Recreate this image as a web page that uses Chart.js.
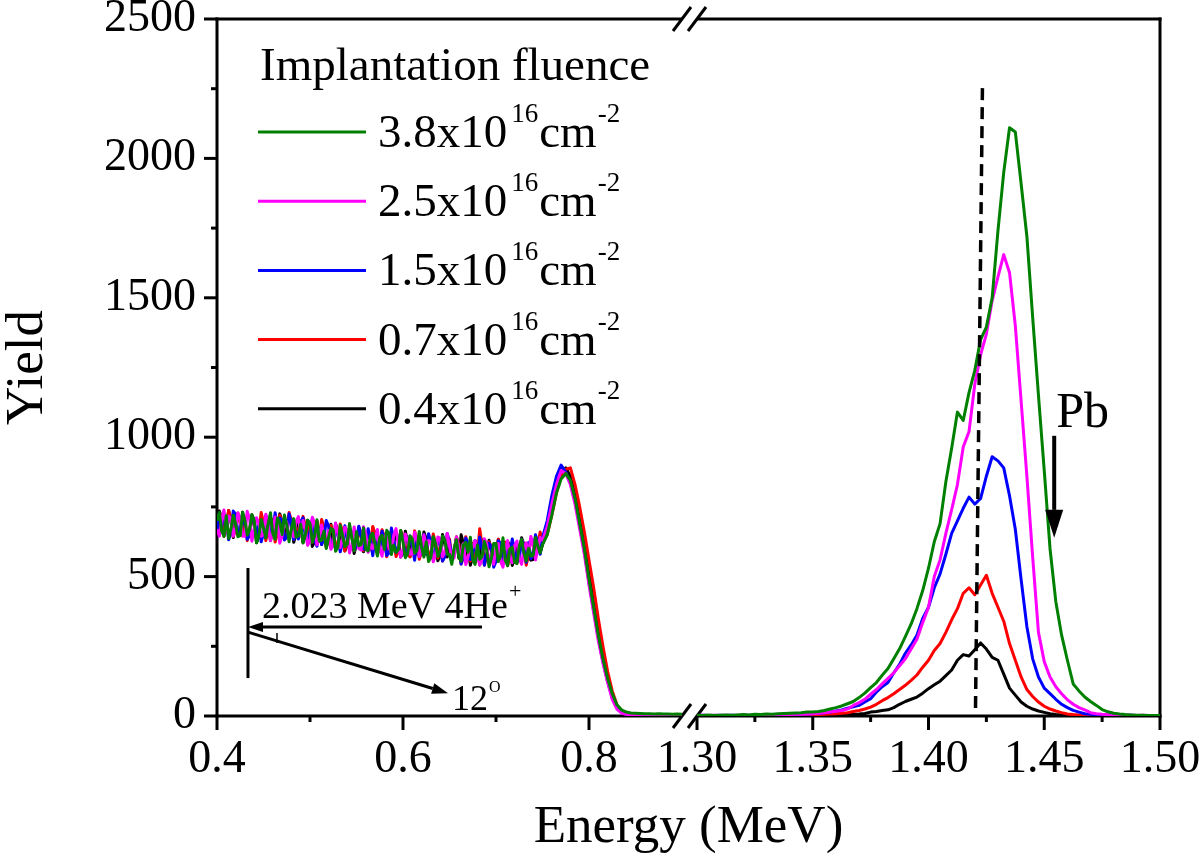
<!DOCTYPE html>
<html>
<head>
<meta charset="utf-8">
<script src="https://cdn.jsdelivr.net/npm/chart.js@4.4.1/dist/chart.umd.min.js"></script>
<style>
html,body{margin:0;padding:0;background:#fff;}
canvas{display:block;}
</style>
</head>
<body>
<canvas id="c" width="1200" height="855"></canvas>
<script>
// ---------------- DATA ----------------
const fluences = ['3.8', '2.5', '1.5', '0.7', '0.4'];

const energyLow = [
0.4000,0.4025,0.4050,0.4075,0.4100,0.4125,0.4150,0.4175,0.4200,0.4225,0.4250,0.4275,0.4300,0.4325,0.4350,0.4375,0.4400,0.4425,0.4450,0.4475,
0.4500,0.4525,0.4550,0.4575,0.4600,0.4625,0.4650,0.4675,0.4700,0.4725,0.4750,0.4775,0.4800,0.4825,0.4850,0.4875,0.4900,0.4925,0.4950,0.4975,
0.5000,0.5025,0.5050,0.5075,0.5100,0.5125,0.5150,0.5175,0.5200,0.5225,0.5250,0.5275,0.5300,0.5325,0.5350,0.5375,0.5400,0.5425,0.5450,0.5475,
0.5500,0.5525,0.5550,0.5575,0.5600,0.5625,0.5650,0.5675,0.5700,0.5725,0.5750,0.5775,0.5800,0.5825,0.5850,0.5875,0.5900,0.5925,0.5950,0.5975,
0.6000,0.6025,0.6050,0.6075,0.6100,0.6125,0.6150,0.6175,0.6200,0.6225,0.6250,0.6275,0.6300,0.6325,0.6350,0.6375,0.6400,0.6425,0.6450,0.6475,
0.6500,0.6525,0.6550,0.6575,0.6600,0.6625,0.6650,0.6675,0.6700,0.6725,0.6750,0.6775,0.6800,0.6825,0.6850,0.6875,0.6900,0.6925,0.6950,0.6975,
0.7000,0.7025,0.7050,0.7075,0.7100,0.7125,0.7150,0.7175,0.7200,0.7225,0.7250,0.7275,0.7300,0.7325,0.7350,0.7375,0.7400,0.7425,0.7450,0.7475,
0.750,0.755,0.760,0.765,0.770,0.775,0.780,0.785,0.790,0.795,0.800,0.805,0.810,0.815,0.820,0.825,0.830,0.835,0.840,0.845,0.850,0.855,0.860,0.865,0.870,0.875,0.880,0.885,0.890,0.895,0.900];

const energyHigh = [1.3000,1.3025,1.3050,1.3075,1.3100,1.3125,1.3150,1.3175,1.3200,1.3225,1.3250,1.3275,1.3300,1.3325,1.3350,1.3375,1.3400,1.3425,1.3450,1.3475,1.3500,1.3525,1.3550,1.3575,1.3600,1.3625,1.3650,1.3675,1.3700,1.3725,1.3750,1.3775,1.3800,1.3825,1.3850,1.3875,1.3900,1.3925,1.3950,1.3975,1.4000,1.4025,1.4050,1.4075,1.4100,1.4125,1.4150,1.4175,1.4200,1.4225,1.4250,1.4275,1.4300,1.4325,1.4350,1.4375,1.4400,1.4425,1.4450,1.4475,1.4500,1.4525,1.4550,1.4575,1.4600,1.4625,1.4650,1.4675,1.4700,1.4725,1.4750,1.4775,1.4800,1.4825,1.4850,1.4875,1.4900,1.4925,1.4950,1.4975,1.5000];

// 3.8x10^16 cm^-2
const yieldLow38 = [
700,730,665,644,718,637,671,720,689,643,647,731,700,649,668,722,702,621,646,705,
675,639,689,729,654,634,710,695,651,721,686,625,670,708,642,645,688,621,649,702,
690,623,646,704,627,630,663,601,640,673,667,591,605,684,648,607,616,690,639,593,
662,611,615,674,598,592,646,655,615,574,639,648,597,666,655,579,613,587,596,665,
624,568,582,646,635,584,593,662,606,570,625,554,569,643,618,572,592,646,631,580,
580,544,603,632,571,555,614,623,587,641,560,544,613,562,572,626,596,535,565,619,
619,554,574,639,559,539,600,605,551,547,608,634,585,556,602,574,576,640,610,585,
615,650,720,800,850,870,845,780,690,600,490,390,290,205,135,80,40,22,14,11,10,9,8,8,7,8,7,7,6,7,6];
const yieldHigh38 = [3,2,4,2,3,4,3,4,5,4,6,5,7,6,8,9,10,11,12,14,14,16,20,25,30,36,44,52,66,82,102,120,146,170,205,241,285,330,385,450,530,625,690,840,960,1090,1060,1160,1240,1350,1395,1500,1740,1950,2110,2095,1910,1720,1430,1150,880,600,410,290,200,115,90,68,52,38,23,15,10,7,5,4,3,3,2,2,2];

// 2.5x10^16 cm^-2
const yieldLow25 = [
670,645,705,739,658,717,711,645,674,728,702,646,645,734,708,627,672,711,691,645,
650,724,684,629,659,714,705,620,646,706,696,635,665,643,697,715,648,701,669,612,
630,713,691,614,637,685,648,616,665,598,617,691,655,604,633,677,666,585,614,678,
642,601,595,679,653,587,616,600,630,669,599,573,642,651,605,584,648,672,611,570,
594,653,627,581,580,659,633,572,596,650,600,629,624,553,578,642,637,571,586,655,
610,559,568,642,601,560,619,543,572,621,605,629,578,542,562,636,616,555,580,544,
604,619,554,534,594,629,570,550,611,627,568,544,595,621,582,644,611,560,605,640,
630,680,760,830,880,870,830,760,670,580,470,370,270,190,120,60,25,10,6,4,4,3,4,3,3,4,3,3,2,3,3];
const yieldHigh25 = [2,3,2,3,2,3,2,3,3,2,3,4,3,4,4,5,5,6,6,7,8,10,12,14,17,20,25,38,48,60,78,95,115,135,155,180,205,240,275,335,390,500,560,655,740,830,965,1020,1190,1295,1370,1490,1575,1655,1590,1400,1130,860,570,300,195,140,105,80,58,42,30,22,12,8,6,5,4,4,3,3,2,3,2,2,2];

// 1.5x10^16 cm^-2
const yieldLow15 = [
725,650,680,724,708,632,661,735,724,653,667,726,685,634,648,717,702,641,686,625,
655,719,704,644,659,729,670,710,701,631,641,725,690,633,662,635,698,711,644,632,
665,708,631,609,672,615,638,701,680,603,612,671,650,589,623,682,631,670,659,593,
612,681,645,599,598,672,631,575,645,589,599,663,632,576,585,674,633,587,606,660,
639,573,592,646,610,559,638,572,591,650,580,654,624,563,598,632,612,556,571,655,
625,564,583,637,601,545,574,638,622,561,580,629,563,642,602,541,581,620,605,534,
554,629,619,544,569,614,580,635,596,552,563,634,610,551,622,564,586,650,620,580,
640,700,790,860,900,875,835,770,685,590,480,380,280,195,125,65,28,12,6,4,3,4,3,3,4,3,3,2,3,3,2];
const yieldHigh15 = [2,3,2,2,3,2,3,2,3,3,3,3,4,4,5,5,6,6,7,7,8,10,12,14,18,22,28,33,38,50,62,86,105,120,155,185,225,255,290,350,390,460,510,580,655,700,745,785,760,780,860,930,915,890,790,670,490,320,205,140,100,80,60,42,30,20,14,8,6,5,4,4,3,3,2,3,2,2,2,2,2];

// 0.7x10^16 cm^-2
const yieldLow07 = [
705,655,720,644,678,737,711,645,664,728,692,646,715,629,663,717,682,646,651,730,
695,629,669,709,704,624,655,720,691,641,646,730,700,633,677,640,653,716,684,617,
695,623,646,699,627,705,678,606,640,683,657,611,620,689,663,592,626,670,654,593,
607,676,640,594,633,597,596,680,650,584,609,668,642,571,610,654,633,572,591,665,
644,578,612,571,590,664,633,562,591,645,625,574,574,653,618,567,612,556,581,640,
635,559,593,642,616,545,569,643,602,556,620,549,573,672,612,541,576,625,605,549,
564,634,589,554,624,539,570,625,601,547,583,634,615,541,582,634,616,565,615,660,
620,650,720,800,860,885,890,830,750,660,560,460,350,250,160,90,40,16,8,5,4,4,3,4,3,3,3,2,3,2,2];
const yieldHigh07 = [1,2,1,2,1,2,2,1,2,2,2,2,3,2,3,3,3,3,4,4,4,5,6,7,8,10,12,16,20,25,32,42,55,66,80,95,110,128,147,175,200,235,260,300,345,385,440,460,435,470,505,440,390,340,260,200,140,95,70,50,35,25,18,12,7,5,4,4,3,3,2,2,2,2,2,2,2,2,2,2,2];

// 0.4x10^16 cm^-2
const yieldLow04 = [
680,735,710,649,663,737,696,640,714,648,662,731,685,639,663,722,702,621,646,715,
690,639,694,629,664,714,650,725,696,636,671,720,705,623,652,705,678,621,649,702,
685,608,626,699,657,615,668,606,635,688,622,691,655,604,668,592,611,675,644,583,
617,676,655,589,623,597,606,675,655,579,614,663,637,586,595,664,623,647,636,570,
584,663,622,571,635,574,593,652,601,660,635,564,584,643,613,557,577,651,616,570,
620,559,588,642,566,650,619,558,597,541,575,629,608,542,632,556,566,630,595,544,
559,634,599,549,574,624,615,540,571,617,583,639,615,551,572,559,561,645,615,585,
615,660,740,820,875,890,860,800,720,640,540,420,310,220,140,75,32,14,7,4,4,3,3,3,4,3,2,3,2,2,3];
const yieldHigh04 = [1,1,2,1,1,2,1,1,2,1,1,2,1,2,2,1,2,2,2,2,2,2,3,3,4,4,5,6,7,9,14,16,20,22,30,42,52,60,68,82,98,112,125,145,165,200,220,215,238,262,240,210,200,150,100,75,50,35,25,18,13,8,5,4,3,2,2,2,1,1,1,1,1,1,1,1,1,1,1,1,1];

const xTickValues = [0.4, 0.5, 0.6, 0.7, 0.8, 1.30, 1.325, 1.35, 1.375, 1.40, 1.425, 1.45, 1.475, 1.50];
const xTickLabels = ['0.4', '', '0.6', '', '0.8', '1.30', '', '1.35', '', '1.40', '', '1.45', '', '1.50'];
const yTickLabels = ['0', '500', '1000', '1500', '2000', '2500'];

// ---------------- STYLE / LAYOUT ----------------
const FONT = "'Liberation Serif', 'Times New Roman', serif";
const seriesColors = ['#008000', '#ff00ff', '#0000ff', '#ff0000', '#000000'];
const lowSets = [yieldLow38, yieldLow25, yieldLow15, yieldLow07, yieldLow04];
const highSets = [yieldHigh38, yieldHigh25, yieldHigh15, yieldHigh07, yieldHigh04];

// broken x axis: two segments with pixel weights and a gap
const X_SEGMENTS = [{min: 0.4, max: 0.9, weight: 465}, {min: 1.30, max: 1.50, weight: 463}];
const X_GAP = 15;

class BrokenLinearScale extends Chart.LinearScale {
  static id = 'brokenLinear';
  static defaults = {};
  buildTicks() {
    this.start = this.min;
    this.end = this.max;
    return xTickValues.map(v => ({value: v}));
  }
  _total() { return X_SEGMENTS[0].weight + X_GAP + X_SEGMENTS[1].weight; }
  getPixelForValue(value) {
    const s0 = X_SEGMENTS[0], s1 = X_SEGMENTS[1];
    const k = this.width / this._total();
    let w;
    if (value <= s0.max) w = (value - s0.min) / (s0.max - s0.min) * s0.weight;
    else if (value >= s1.min) w = s0.weight + X_GAP + (value - s1.min) / (s1.max - s1.min) * s1.weight;
    else w = s0.weight + (value - s0.max) / (s1.min - s0.max) * X_GAP;
    return this.left + w * k;
  }
  getValueForPixel(pixel) {
    const s0 = X_SEGMENTS[0], s1 = X_SEGMENTS[1];
    const k = this.width / this._total();
    const w = (pixel - this.left) / k;
    if (w <= s0.weight) return s0.min + w / s0.weight * (s0.max - s0.min);
    if (w >= s0.weight + X_GAP) return s1.min + (w - s0.weight - X_GAP) / s1.weight * (s1.max - s1.min);
    return s0.max + (w - s0.weight) / X_GAP * (s1.min - s0.max);
  }
}
Chart.register(BrokenLinearScale);

const datasets = [];
fluences.forEach((f, i) => {
  [[energyLow, lowSets[i]], [energyHigh, highSets[i]]].forEach(([xs, ys]) => {
    datasets.push({
      label: f,
      data: xs.map((e, j) => ({x: e, y: ys[j]})),
      borderColor: seriesColors[i],
      backgroundColor: seriesColors[i],
      borderWidth: 3,
      pointRadius: 0,
      fill: false,
      tension: 0,
      borderJoinStyle: 'round'
    });
  });
});

function seg(ctx, x1, y1, x2, y2) {
  ctx.beginPath(); ctx.moveTo(x1, y1); ctx.lineTo(x2, y2); ctx.stroke();
}
function arrow(ctx, x1, y1, x2, y2, headLen, headHalf, lw) {
  const ang = Math.atan2(y2 - y1, x2 - x1);
  const bx = x2 - headLen * Math.cos(ang), by = y2 - headLen * Math.sin(ang);
  ctx.lineWidth = lw;
  seg(ctx, x1, y1, bx, by);
  ctx.beginPath();
  ctx.moveTo(x2, y2);
  ctx.lineTo(bx + headHalf * Math.sin(ang), by - headHalf * Math.cos(ang));
  ctx.lineTo(bx - headHalf * Math.sin(ang), by + headHalf * Math.cos(ang));
  ctx.closePath(); ctx.fill();
}
function richText(ctx, parts, x, y) {
  let cx = x;
  parts.forEach(p => {
    cx += p.gap || 0;
    ctx.font = p.size + 'px ' + FONT;
    ctx.fillText(p.t, cx, y - (p.rise || 0));
    cx += ctx.measureText(p.t).width;
  });
}

const framePlugin = {
  id: 'frame',
  beforeDatasetsDraw(chart) {
    const {ctx, chartArea: a, scales: {x, y}} = chart;
    ctx.save();
    ctx.strokeStyle = '#000'; ctx.fillStyle = '#000'; ctx.lineWidth = 3; ctx.lineCap = 'butt';
    const xb1 = x.getPixelForValue(X_SEGMENTS[0].max);
    const xb2 = x.getPixelForValue(X_SEGMENTS[1].min);
    seg(ctx, a.left, a.top - 1.5, a.left, a.bottom + 1.5);
    seg(ctx, a.right, a.top - 1.5, a.right, a.bottom + 1.5);
    [a.top, a.bottom].forEach(py => {
      seg(ctx, a.left - 1.5, py, xb1, py);
      seg(ctx, xb2, py, a.right + 1.5, py);
    });
    y.ticks.forEach(t => {
      const py = y.getPixelForValue(t.value);
      const major = t.value % 500 === 0;
      seg(ctx, a.left - (major ? 13 : 6), py, a.left, py);
    });
    x.ticks.forEach((t, i) => {
      const px = x.getPixelForValue(t.value);
      const major = xTickLabels[i] !== '';
      seg(ctx, px, a.bottom, px, a.bottom + (major ? 14 : 6));
    });
    [xb1, xb2].forEach(px => [a.top, a.bottom].forEach(py => seg(ctx, px - 9, py + 12, px + 9, py - 12)));
    ctx.restore();
  },
  afterDraw(chart) {
    const {ctx, chartArea: a} = chart;
    ctx.save();
    ctx.fillStyle = '#000';
    ctx.font = '53px ' + FONT;
    ctx.textAlign = 'center'; ctx.textBaseline = 'alphabetic';
    ctx.fillText('Energy (MeV)', (a.left + a.right) / 2, 842);
    ctx.translate(42, (a.top + a.bottom) / 2);
    ctx.rotate(-Math.PI / 2);
    ctx.fillText('Yield', 0, 0);
    ctx.restore();
  }
};

const notesPlugin = {
  id: 'notes',
  afterDatasetsDraw(chart) {
    const {ctx, chartArea: a, scales: {x, y}} = chart;
    ctx.save();
    ctx.fillStyle = '#000'; ctx.strokeStyle = '#000'; ctx.textBaseline = 'alphabetic'; ctx.textAlign = 'left';

    // legend
    ctx.font = '47px ' + FONT;
    ctx.fillText('Implantation fluence', a.left + 43, 80);
    fluences.forEach((f, i) => {
      const ly = 132 + i * 69.2;
      ctx.strokeStyle = seriesColors[i]; ctx.lineWidth = 3;
      seg(ctx, a.left + 41, ly, a.left + 149, ly);
      ctx.fillStyle = '#000';
      richText(ctx, [
        {t: f + 'x10', size: 47},
        {t: '16', size: 27, rise: 25, gap: 4},
        {t: 'cm', size: 47, gap: 1},
        {t: '-2', size: 27, rise: 25, gap: 1}
      ], a.left + 161, ly + 15);
    });

    // dashed reference line
    ctx.strokeStyle = '#000'; ctx.lineWidth = 3.5; ctx.setLineDash([12, 7]);
    seg(ctx, x.getPixelForValue(1.4233), y.getPixelForValue(2252), x.getPixelForValue(1.4203), y.getPixelForValue(22));
    ctx.setLineDash([]);

    // Pb label and arrow
    ctx.fillStyle = '#000';
    ctx.font = '50px ' + FONT;
    ctx.fillText('Pb', x.getPixelForValue(1.4552), y.getPixelForValue(1037));
    const ax = x.getPixelForValue(1.4543);
    arrow(ctx, ax, y.getPixelForValue(1005), ax, y.getPixelForValue(639), 28, 9, 4);

    // scattering geometry sketch
    ctx.lineWidth = 3;
    const sx = x.getPixelForValue(0.4333);
    seg(ctx, sx, y.getPixelForValue(531), sx, y.getPixelForValue(136));
    arrow(ctx, x.getPixelForValue(0.6849), y.getPixelForValue(319), sx, y.getPixelForValue(319), 15, 5, 3);
    arrow(ctx, sx, y.getPixelForValue(301), x.getPixelForValue(0.6484), y.getPixelForValue(82), 16, 5.5, 3);
    ctx.lineWidth = 1.5;
    const tx = x.getPixelForValue(0.4645);
    seg(ctx, tx, y.getPixelForValue(298), tx, y.getPixelForValue(262));
    richText(ctx, [
      {t: '2.023 MeV 4He', size: 38},
      {t: '+', size: 22, rise: 20, gap: 1}
    ], x.getPixelForValue(0.4484), y.getPixelForValue(352));
    richText(ctx, [
      {t: '12', size: 36},
      {t: 'O', size: 16, rise: 18, gap: 1}
    ], x.getPixelForValue(0.6527), y.getPixelForValue(22));
    ctx.restore();
  }
};

new Chart(document.getElementById('c'), {
  type: 'line',
  data: {datasets},
  plugins: [framePlugin, notesPlugin],
  options: {
    responsive: false,
    animation: false,
    devicePixelRatio: 1,
    events: [],
    layout: {padding: {top: 19, right: 40, left: 0, bottom: 0}},
    plugins: {legend: {display: false}, tooltip: {enabled: false}},
    elements: {point: {radius: 0}, line: {tension: 0}},
    scales: {
      x: {
        type: 'brokenLinear',
        min: 0.4, max: 1.5,
        grid: {display: false, drawTicks: false},
        border: {display: false},
        ticks: {
          autoSkip: false, maxRotation: 0, minRotation: 0, padding: 16,
          color: '#000', font: {family: FONT, size: 46},
          callback: (v, i) => xTickLabels[i]
        },
        afterFit(s) { s.height = 139; s.paddingLeft = 0; s.paddingRight = 0; }
      },
      y: {
        type: 'linear',
        min: 0, max: 2500,
        grid: {display: false, drawTicks: false},
        border: {display: false},
        ticks: {
          stepSize: 250, padding: 21, color: '#000', font: {family: FONT, size: 46},
          callback: (v) => (v % 500 === 0 ? yTickLabels[v / 500] : '')
        },
        afterFit(s) { s.width = 217; s.paddingTop = 0; s.paddingBottom = 0; }
      }
    }
  }
});
</script>
</body>
</html>
